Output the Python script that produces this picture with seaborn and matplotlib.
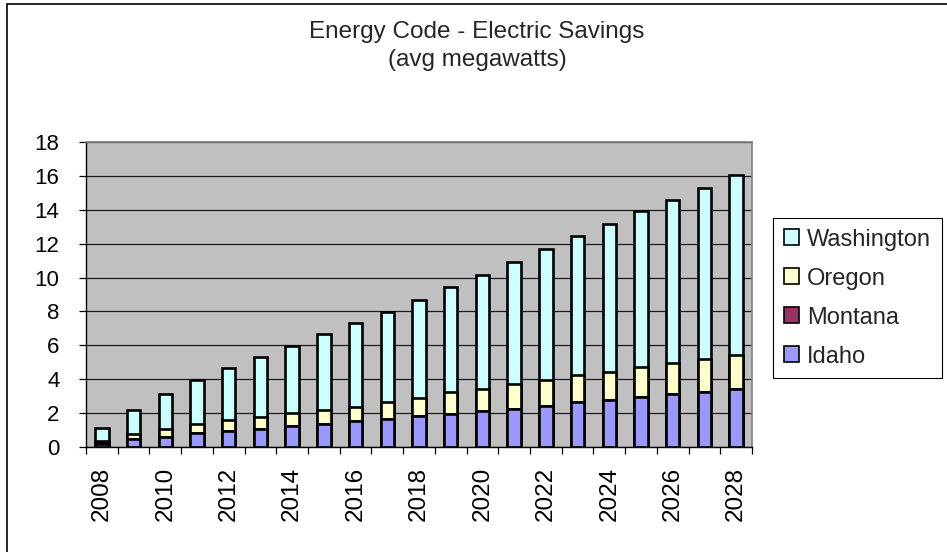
import numpy as np
import pandas as pd
import matplotlib
matplotlib.use("Agg")
import matplotlib.pyplot as plt
from matplotlib.patches import Patch, Rectangle
import seaborn as sns

years = list(range(2008, 2029))
idaho = [0.15, 0.45, 0.59, 0.80, 0.96, 1.08, 1.22, 1.37, 1.53, 1.67, 1.82,
         1.96, 2.12, 2.27, 2.43, 2.63, 2.79, 2.94, 3.10, 3.25, 3.41]
montana = [0.08, 0, 0, 0, 0, 0, 0, 0, 0, 0, 0,
           0, 0, 0, 0, 0, 0, 0, 0, 0, 0]
oregon = [0.10, 0.31, 0.49, 0.53, 0.63, 0.68, 0.78, 0.79, 0.86, 0.98, 1.08,
          1.26, 1.33, 1.42, 1.53, 1.61, 1.64, 1.79, 1.86, 1.97, 2.02]
washington = [0.82, 1.42, 2.04, 2.61, 3.10, 3.58, 3.98, 4.49, 4.93, 5.34, 5.79,
              6.21, 6.73, 7.21, 7.73, 8.19, 8.73, 9.17, 9.63, 10.09, 10.61]

series_names = ["Idaho", "Montana", "Oregon", "Washington"]
series_colors = {"Idaho": "#9999FF", "Montana": "#993366",
                 "Oregon": "#FFFFCC", "Washington": "#CCFFFF"}
yticks = list(range(0, 19, 2))
title_line1 = "Energy Code - Electric Savings"
title_line2 = "(avg megawatts)"

df = pd.DataFrame({"year": [str(y) for y in years], "Idaho": idaho,
                   "Montana": montana, "Oregon": oregon, "Washington": washington})
df["c_Idaho"] = df["Idaho"]
df["c_Montana"] = df["c_Idaho"] + df["Montana"]
df["c_Oregon"] = df["c_Montana"] + df["Oregon"]
df["c_Washington"] = df["c_Oregon"] + df["Washington"]

sns.set_theme(style="white")
plt.rcParams["font.family"] = ["Liberation Sans", "DejaVu Sans"]

W, H = 947, 552
fig = plt.figure(figsize=(W / 100, H / 100), dpi=100)
ax = fig.add_axes([86 / W, (H - 447) / H, 666 / W, 305 / H])
ax.set_facecolor("#C0C0C0")

for name in ["Washington", "Oregon", "Montana", "Idaho"]:
    sns.barplot(data=df, x="year", y="c_" + name, color=series_colors[name],
                saturation=1, width=0.42, edgecolor="black", linewidth=1.9,
                errorbar=None, ax=ax)

ax.set_xlabel("")
ax.set_ylabel("")
ax.set_ylim(0, 18)
ax.set_xlim(-0.5, len(years) - 0.5)
ax.set_yticks(yticks)
ax.set_yticklabels([str(v) for v in yticks], fontsize=16)
ax.yaxis.grid(True, color="#1a1a1a", linewidth=0.9)
ax.xaxis.grid(False)
ax.set_axisbelow(True)

xt = list(range(0, len(years), 2))
ax.set_xticks(xt)
ax.set_xticklabels([str(years[i]) for i in xt], rotation=90, fontsize=17.5)
ax.set_xticks(np.arange(-0.5, len(years), 1.0), minor=True)
ax.tick_params(axis="x", which="major", length=0, pad=14.5, colors="black")
ax.tick_params(axis="x", which="minor", length=5, width=0.9, direction="out",
               color="black", bottom=True)
ax.tick_params(axis="y", which="major", length=5, width=0.9, direction="out",
               pad=14, colors="black", left=True)

for s in ["left", "bottom"]:
    ax.spines[s].set_color("black")
    ax.spines[s].set_linewidth(1.0)
for s in ["top", "right"]:
    ax.spines[s].set_color("#808080")
    ax.spines[s].set_linewidth(1.2)

fig.text(477 / W, 1 - 32 / H, title_line1, ha="center", va="center", fontsize=17.5)
fig.text(477 / W, 1 - 60 / H, title_line2, ha="center", va="center", fontsize=17.5)

handles = [Patch(facecolor=series_colors[n], edgecolor="black", linewidth=1.2, label=n)
           for n in ["Washington", "Oregon", "Montana", "Idaho"]]
leg = fig.legend(handles=handles, loc="upper left",
                 bbox_to_anchor=(773 / W, 1 - 218 / H), frameon=True,
                 fancybox=False, edgecolor="black", framealpha=1, fontsize=17,
                 handlelength=0.65, handleheight=0.65, handletextpad=0.35,
                 labelspacing=0.72, borderpad=0.45, borderaxespad=0)
leg.get_frame().set_linewidth(0.8)

fig.add_artist(Rectangle((6.5 / W, -0.5), 2, 0.5 + (H - 3.5) / H,
                         transform=fig.transFigure, fill=False,
                         edgecolor="black", linewidth=1.2))

fig.savefig("out.png", dpi=100)
